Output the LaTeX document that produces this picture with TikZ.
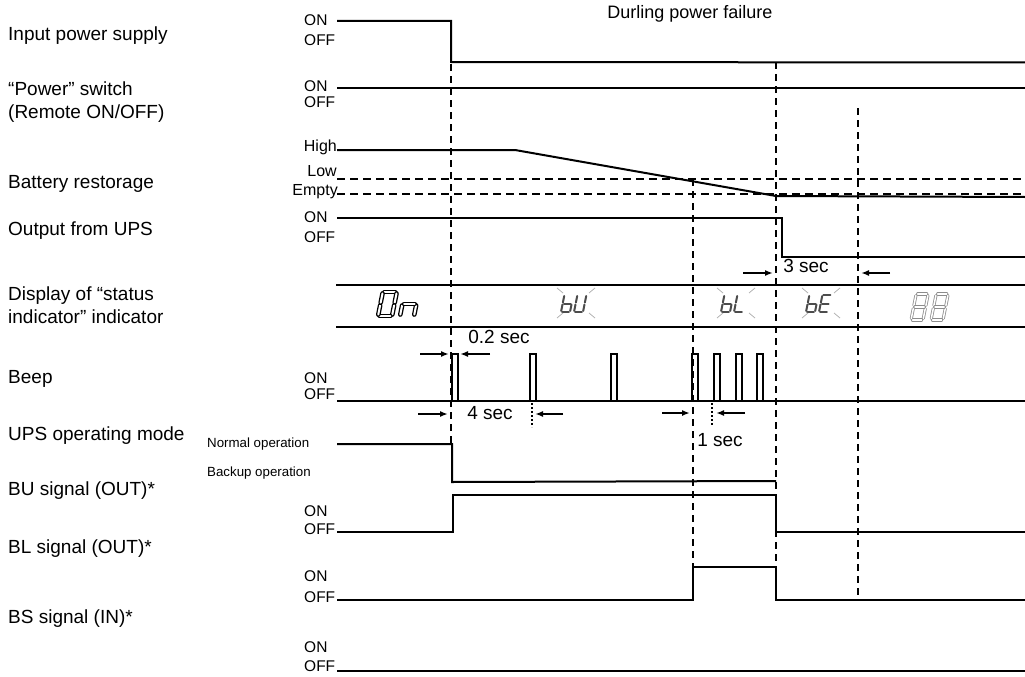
\documentclass[tikz,border=0pt]{standalone}
\usepackage{fontspec}
\setmainfont{Liberation Sans}
\usetikzlibrary{arrows.meta}
\tikzset{
  sig/.style={line width=2pt},
  guide/.style={line width=2pt, dash pattern=on 7pt off 5pt},
  threshold/.style={line width=2pt, dash pattern=on 8pt off 5pt},
  timemark/.style={line width=1.4pt, dash pattern=on 2pt off 2pt},
  dimarrow/.style={-{Latex[length=8pt,width=6pt]}, line width=1.6pt},
  rowlabel/.style={anchor=west, inner sep=0pt, text height=0.72em, text depth=0pt, font=\fontsize{19}{23}\selectfont},
  rowlabeltwo/.style={anchor=west, inner sep=0pt, align=left, font=\fontsize{19}{23}\selectfont},
  onoff/.style={anchor=west, inner sep=0pt, text height=0.72em, text depth=0pt, font=\fontsize{15.5}{16}\selectfont},
  battlevel/.style={anchor=east, inner sep=0pt, text height=0.72em, text depth=0pt, font=\fontsize{16}{16}\selectfont},
  modelabel/.style={anchor=west, inner sep=0pt, text height=0.72em, text depth=0pt, font=\fontsize{13.3}{14}\selectfont},
  timelabel/.style={inner sep=0pt, text height=0.72em, text depth=0pt, font=\fontsize{19}{20}\selectfont},
  lcdon/.style={draw=black, double=white, double distance=2pt, line width=1.3pt, line cap=round},
  lcdblink/.style={draw=black!70, line width=2pt, line cap=round},
  lcdoff/.style={draw=black!45, double=white, double distance=1.5pt, line width=0.8pt, line cap=round},
  ray/.style={draw=black!30, line width=0.8pt},
  seg a/.style={insert path={(0.12,2)--(0.88,2)}},
  seg b/.style={insert path={(1,1.88)--(1,1.12)}},
  seg c/.style={insert path={(1,0.88)--(1,0.12)}},
  seg d/.style={insert path={(0.12,0)--(0.88,0)}},
  seg e/.style={insert path={(0,0.12)--(0,0.88)}},
  seg f/.style={insert path={(0,1.12)--(0,1.88)}},
  seg g/.style={insert path={(0.12,1)--(0.88,1)}}
}
% seven segment character: style, origin, width, half height, segments
\newcommand\lcdchar[5]{%
  \begin{scope}[shift={(#2)}, x={(#3pt,0pt)}, y={(0.2*#4pt,#4pt)}]
    \foreach \s in {#5}{\draw[#1, seg \s];}
  \end{scope}}
% flashing marks round a character pair
\newcommand\lcdrays[1]{%
  \begin{scope}[shift={(#1)}]
    \draw[ray] (-19,-15) -- (-13,-10);
    \draw[ray] (19,-15) -- (13,-10);
    \draw[ray] (-19,15) -- (-13,10);
    \draw[ray] (19,15) -- (13,10);
  \end{scope}}

\begin{document}
\begin{tikzpicture}[x=1pt, y=-1pt]
  \useasboundingbox (0,0) rectangle (1025,677);

  \node[timelabel, font=\fontsize{18}{20}\selectfont] (title) at (690,15) {Durling power failure};

  % row names
  \node[rowlabel] (inlab) at (8,37) {Input power supply};
  \node[rowlabeltwo] (swlab) at (8,102.5) {“Power” switch\\(Remote ON/OFF)};
  \node[rowlabel] (batlab) at (8,185) {Battery restorage};
  \node[rowlabel] (outlab) at (8,232) {Output from UPS};
  \node[rowlabeltwo] (displab) at (8,305) {Display of “status\\indicator” indicator};
  \node[rowlabel] (beeplab) at (8,380) {Beep};
  \node[rowlabel] (modelab) at (8,437) {UPS operating mode};
  \node[rowlabel] (bulab) at (8,492) {BU signal (OUT)*};
  \node[rowlabel] (bllab) at (8,550) {BL signal (OUT)*};
  \node[rowlabel] (bslab) at (8,620) {BS signal (IN)*};

  % level names
  \node[onoff] (inon) at (304,21.5) {ON};
  \node[onoff] (inoff) at (304,41.5) {OFF};
  \node[onoff] (swon) at (304,87.5) {ON};
  \node[onoff] (swoff) at (304,104) {OFF};
  \node[battlevel] (high) at (337,148) {High};
  \node[battlevel] (low) at (337,173) {Low};
  \node[battlevel] (empty) at (338,192) {Empty};
  \node[onoff] (outon) at (304,218.5) {ON};
  \node[onoff] (outoff) at (304,238.5) {OFF};
  \node[onoff] (beepon) at (304,380) {ON};
  \node[onoff] (beepoff) at (304,396) {OFF};
  \node[modelabel] (normal) at (207,444) {Normal operation};
  \node[modelabel] (backup) at (207,473) {Backup operation};
  \node[onoff] (buon) at (304,513) {ON};
  \node[onoff] (buoff) at (304,531) {OFF};
  \node[onoff] (blon) at (304,578) {ON};
  \node[onoff] (bloff) at (304,599) {OFF};
  \node[onoff] (bson) at (304,649) {ON};
  \node[onoff] (bsoff) at (304,668) {OFF};

  % signals
  \draw[sig] (337,21) -- (451,21) -- (451,62) -- (1025,62.5);
  \draw[sig, line width=2.6pt] (337,88) -- (1025,88);
  \draw[sig] (337,150) -- (515,150) -- (776,196) -- (1025,197);
  \draw[threshold] (337,179) -- (1025,179);
  \draw[threshold] (337,194) -- (1025,194);
  \draw[sig] (337,218) -- (782,218) -- (782,257) -- (1025,257);
  \draw[sig] (336,285) -- (1025,285);
  \draw[sig] (336,327) -- (1025,327);
  \draw[sig] (337,401) -- (1025,401);
  \draw[sig] (452,401) -- (452,354) -- (458,354) -- (458,401);
  \draw[sig] (530,401) -- (530,354) -- (536,354) -- (536,401);
  \draw[sig] (611,401) -- (611,354) -- (617,354) -- (617,401);
  \draw[sig] (692,401) -- (692,354) -- (698,354) -- (698,401);
  \draw[sig] (714,401) -- (714,354) -- (720,354) -- (720,401);
  \draw[sig] (736,401) -- (736,354) -- (742,354) -- (742,401);
  \draw[sig] (757,401) -- (757,354) -- (763,354) -- (763,401);
  \draw[sig] (337,444) -- (452,444) -- (452,482) -- (776,481);
  \draw[sig] (337,532) -- (453,532) -- (453,495) -- (776,495) -- (776,532) -- (1025,532);
  \draw[sig] (337,600) -- (693,600) -- (693,567) -- (776,567) -- (776,600) -- (1025,600);
  \draw[sig, line width=2.4pt] (337,671) -- (1025,671);

  % timing guides
  \draw[guide] (451,64) -- (451,444);
  \draw[guide] (693,179) -- (693,567);
  \draw[guide] (776,62) -- (776,600);
  \draw[guide] (858,108) -- (858,600);

  % status indicator
  \lcdchar{lcdon}{378,316}{14}{12}{a,b,c,d,e,f}
  \lcdchar{lcdon}{400,316}{14}{12}{c,e,g}
  \lcdchar{lcdblink}{561,312}{9}{8.5}{c,d,e,f,g}
  \lcdchar{lcdblink}{574,312}{9}{8.5}{b,c,d,e,f}
  \lcdrays{576,303}
  \lcdchar{lcdblink}{721,312}{9}{8.5}{c,d,e,f,g}
  \lcdchar{lcdblink}{734,312}{9}{8.5}{d,e,f}
  \lcdrays{736,303}
  \lcdchar{lcdblink}{806,312}{9}{8.5}{c,d,e,f,g}
  \lcdchar{lcdblink}{819,312}{9}{8.5}{a,d,e,f,g}
  \lcdrays{821,303}
  \lcdchar{lcdoff}{911,320}{12}{13}{a,b,c,d,e,f,g}
  \lcdchar{lcdoff}{931,320}{12}{13}{a,b,c,d,e,f,g}

  % durations
  \node[timelabel] (t02) at (499,340) {0.2 sec};
  \coordinate (t02a) at (420,354);
  \coordinate (t02b) at (490,354);
  \draw[dimarrow] (t02a) -- (449,354);
  \draw[dimarrow] (t02b) -- (460,354);

  \node[timelabel] (t4) at (490,416) {4 sec};
  \coordinate (t4a) at (418,414);
  \coordinate (t4b) at (563,414);
  \draw[dimarrow] (t4a) -- (448,414);
  \draw[dimarrow] (t4b) -- (535,414);
  \draw[timemark] (532,403) -- (532,427);

  \node[timelabel] (t1) at (720,443) {1 sec};
  \coordinate (t1a) at (662,413);
  \coordinate (t1b) at (745,413);
  \draw[dimarrow] (t1a) -- (690,413);
  \draw[dimarrow] (t1b) -- (716,413);
  \draw[timemark] (712,403) -- (712,425);

  \node[timelabel] (t3) at (806,269) {3 sec};
  \coordinate (t3a) at (743,273);
  \coordinate (t3b) at (890,273);
  \draw[dimarrow] (t3a) -- (773,273);
  \draw[dimarrow] (t3b) -- (861,273);
\end{tikzpicture}
\end{document}
